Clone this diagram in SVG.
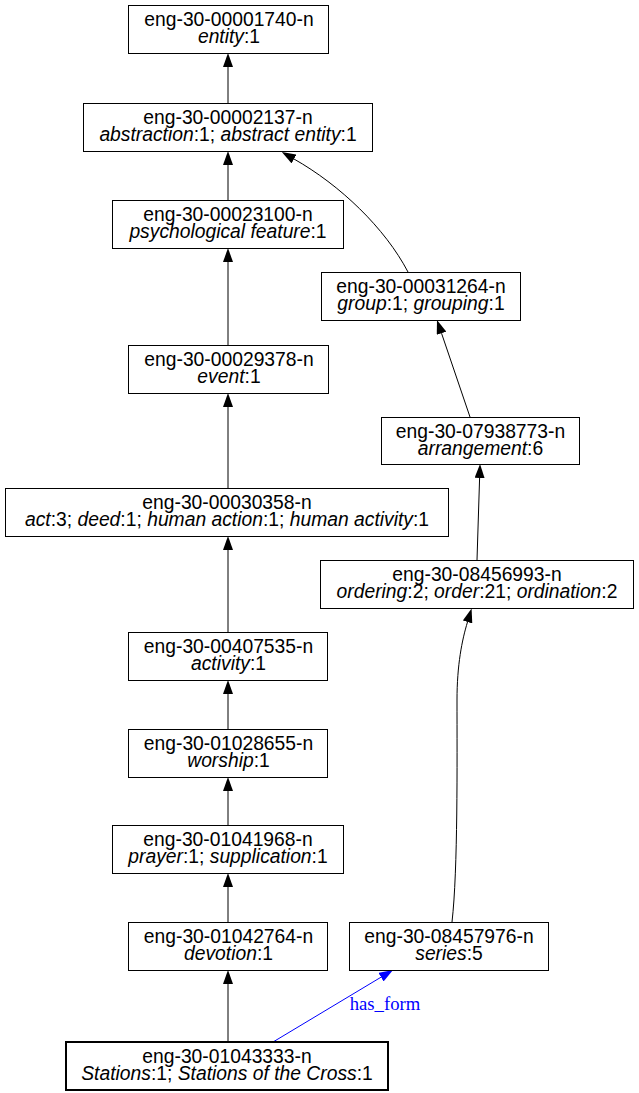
<svg xmlns="http://www.w3.org/2000/svg" width="639" height="1093" viewBox="0 0 639 1093">
<defs>
<style>
.n rect{fill:#fff;stroke:#000;stroke-width:1}
.n.b rect{stroke-width:2}
.n text{font-family:"Liberation Sans",Arial,sans-serif;font-size:19.3px;text-anchor:middle;fill:#000}
.i{font-style:italic}
.e path{fill:none;stroke:#000;stroke-width:1}
.e .h{stroke:#00f}
.lbl{font-family:"Liberation Serif","Times New Roman",serif;font-size:18.7px;fill:#00f;text-anchor:middle}
</style>
<marker id="a" markerUnits="userSpaceOnUse" viewBox="0 0 14 10" refX="0" refY="5" markerWidth="14" markerHeight="10" orient="auto"><path d="M0,0 L14,5 L0,10 z" fill="#000"/></marker>
<marker id="ab" markerUnits="userSpaceOnUse" viewBox="0 0 14 10" refX="0" refY="5" markerWidth="14" markerHeight="10" orient="auto"><path d="M0,0 L14,5 L0,10 z" fill="#00f"/></marker>
</defs>
<rect width="639" height="1093" fill="#fff"/>
<g id="edges" class="e">
<path d="M228,103 L228,67" marker-end="url(#a)"/>
<path d="M228,200 L228,165" marker-end="url(#a)"/>
<path d="M228,345 L228,262" marker-end="url(#a)"/>
<path d="M408,272 C385,228 340,185 294,159" marker-end="url(#a)"/>
<path d="M228,488 L228,407" marker-end="url(#a)"/>
<path d="M470,417 L441.5,333.2" marker-end="url(#a)"/>
<path d="M228,632 L228,550" marker-end="url(#a)"/>
<path d="M477,560 L479.6,478" marker-end="url(#a)"/>
<path d="M228,729 L228,694" marker-end="url(#a)"/>
<path d="M228,825 L228,791" marker-end="url(#a)"/>
<path d="M228,922 L228,887" marker-end="url(#a)"/>
<path d="M452,922 C458,870 457,760 457,700 C457,665 462,640 467.5,622" marker-end="url(#a)"/>
<path d="M228,1042 L228,984" marker-end="url(#a)"/>
<path class="h" d="M273,1042 L381,977.2" marker-end="url(#ab)"/>
<text class="lbl" x="385" y="1010">has_form</text>
</g>
<g id="n1" class="n"><rect x="128.5" y="5.5" width="200" height="48"/><text x="229" y="26">eng-30-00001740-n</text><text x="229" y="43"><tspan class="i">entity</tspan>:1</text></g>
<g id="n2" class="n"><rect x="83.5" y="103.5" width="289" height="48"/><text x="228" y="124">eng-30-00002137-n</text><text x="228" y="141"><tspan class="i">abstraction</tspan>:1; <tspan class="i">abstract entity</tspan>:1</text></g>
<g id="n3" class="n"><rect x="112.5" y="200.5" width="231" height="48"/><text x="228" y="221">eng-30-00023100-n</text><text x="228" y="238"><tspan class="i">psychological feature</tspan>:1</text></g>
<g id="n4" class="n"><rect x="321.5" y="272.5" width="199" height="48"/><text x="421" y="293">eng-30-00031264-n</text><text x="421" y="310"><tspan class="i">group</tspan>:1; <tspan class="i">grouping</tspan>:1</text></g>
<g id="n5" class="n"><rect x="128.5" y="345.5" width="200" height="48"/><text x="229" y="366">eng-30-00029378-n</text><text x="229" y="383"><tspan class="i">event</tspan>:1</text></g>
<g id="n6" class="n"><rect x="381.5" y="417.5" width="198" height="47"/><text x="480.5" y="438">eng-30-07938773-n</text><text x="480.5" y="455"><tspan class="i">arrangement</tspan>:6</text></g>
<g id="n7" class="n"><rect x="5.5" y="488.5" width="443" height="48"/><text x="227" y="509">eng-30-00030358-n</text><text x="227" y="526"><tspan class="i">act</tspan>:3; <tspan class="i">deed</tspan>:1; <tspan class="i">human action</tspan>:1; <tspan class="i">human activity</tspan>:1</text></g>
<g id="n8" class="n"><rect x="320.5" y="560.5" width="313" height="48"/><text x="477" y="581">eng-30-08456993-n</text><text x="477" y="598"><tspan class="i">ordering</tspan>:2; <tspan class="i">order</tspan>:21; <tspan class="i">ordination</tspan>:2</text></g>
<g id="n9" class="n"><rect x="128.5" y="632.5" width="199" height="48"/><text x="228.5" y="653">eng-30-00407535-n</text><text x="228.5" y="670"><tspan class="i">activity</tspan>:1</text></g>
<g id="n10" class="n"><rect x="128.5" y="729.5" width="199" height="48"/><text x="228.5" y="750">eng-30-01028655-n</text><text x="228.5" y="767"><tspan class="i">worship</tspan>:1</text></g>
<g id="n11" class="n"><rect x="112.5" y="825.5" width="231" height="48"/><text x="228" y="846">eng-30-01041968-n</text><text x="228" y="863"><tspan class="i">prayer</tspan>:1; <tspan class="i">supplication</tspan>:1</text></g>
<g id="n12" class="n"><rect x="128.5" y="922.5" width="199" height="48"/><text x="228.5" y="943">eng-30-01042764-n</text><text x="228.5" y="960"><tspan class="i">devotion</tspan>:1</text></g>
<g id="n13" class="n"><rect x="349.5" y="922.5" width="199" height="48"/><text x="449" y="943">eng-30-08457976-n</text><text x="449" y="960"><tspan class="i">series</tspan>:5</text></g>
<g id="n14" class="n b"><rect x="66" y="1042" width="322" height="48"/><text x="227" y="1063">eng-30-01043333-n</text><text x="227" y="1080"><tspan class="i">Stations</tspan>:1; <tspan class="i">Stations of the Cross</tspan>:1</text></g>
</svg>
